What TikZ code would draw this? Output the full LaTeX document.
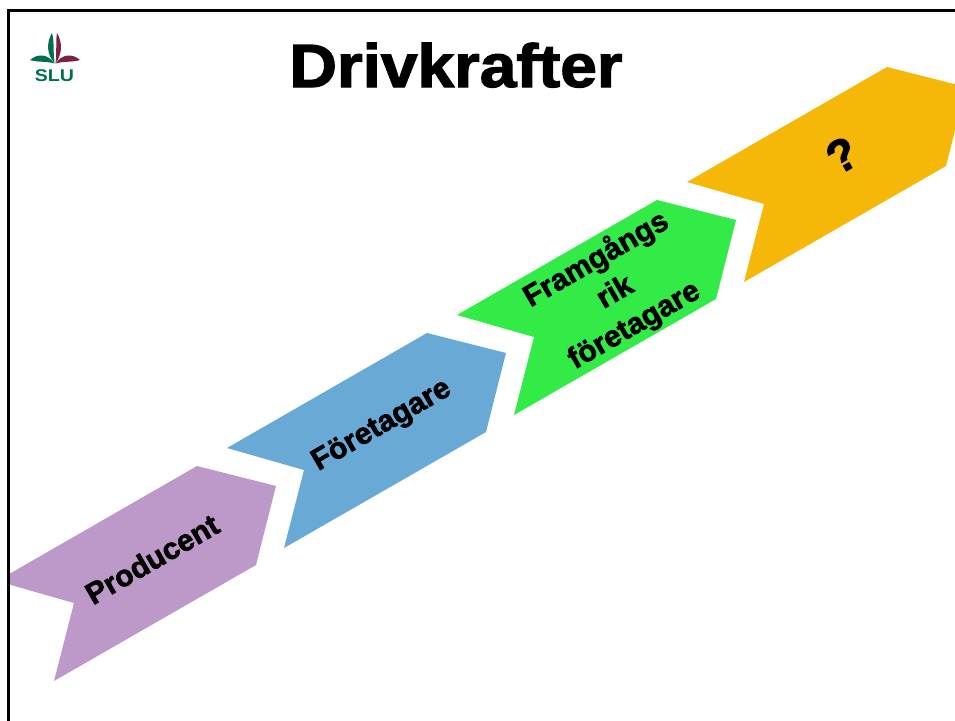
\documentclass[tikz,border=0pt]{standalone}
\usepackage{fontspec}
\setmainfont{Liberation Sans}
\newfontfamily\heavy[FakeBold=2]{Liberation Sans Bold}
\definecolor{purp}{RGB}{188,153,200}
\definecolor{blu}{RGB}{105,169,213}
\definecolor{grn}{RGB}{50,235,70}
\definecolor{yel}{RGB}{245,184,8}
\definecolor{slugreen}{RGB}{0,110,80}
\definecolor{slured}{RGB}{125,35,65}
\begin{document}
\begin{tikzpicture}[x=1pt,y=-1pt,
  chev/.pic={\fill[pic actions] (-200,115) -- (0,0) -- (79,20) -- (59,99) -- (-143,215) -- (-123,137) -- cycle;},
  lab/.style={font=\heavy\fontsize{30}{38}\selectfont, rotate=30, align=center, inner sep=0pt}]
\useasboundingbox (0,0) rectangle (955,720);
\fill[white] (0,0) rectangle (955,720);
% shapes, clipped to the frame
\begin{scope}
\clip (8,10) rectangle (955,720);
\pic[fill=purp] at (197,466) {chev};
\pic[fill=blu]  at (427,333) {chev};
\pic[fill=grn]  at (657,200) {chev};
\pic[fill=yel]  at (887,67)  {chev};
\end{scope}
% frame
\draw[line width=2.6pt] (8.3,730) -- (8.3,10.6) -- (965,10.6);
% title
\node[anchor=base, inner sep=0pt, font=\heavy\fontsize{61}{70}\selectfont] (title) at (456,87) {\scalebox{1.08}[1]{Drivkrafter}};
% labels
\node[lab] (p1) at (152,559) {Producent};
\node[lab] (p2) at (382,426) {Företagare};
\node[lab] (p3) at (615,292) {Framgångs\\rik\\företagare};
\node[lab, font=\heavy\fontsize{46}{50}\selectfont] (p4) at (842,155) {?};
% SLU logo
\fill[slugreen] (52,33) .. controls (46,43) and (47,55) .. (54.5,63) .. controls (53,53) and (54.5,42) .. cycle;
\fill[slured] (57,33) .. controls (63,43) and (62,55) .. (55.5,63) .. controls (57,53) and (55.5,42) .. cycle;
\fill[slugreen] (30,60) .. controls (38,53) and (48,54) .. (54.5,63.5) .. controls (46,61) and (38,62.5) .. cycle;
\fill[slured] (80,60) .. controls (72,53) and (62,54) .. (55.5,63.5) .. controls (64,61) and (72,62.5) .. cycle;
\node[text=slugreen, inner sep=0pt, font=\bfseries\fontsize{17}{20}\selectfont] (slu) at (54.5,75.5) {\scalebox{1.15}[1]{SLU}};
\end{tikzpicture}
\end{document}
